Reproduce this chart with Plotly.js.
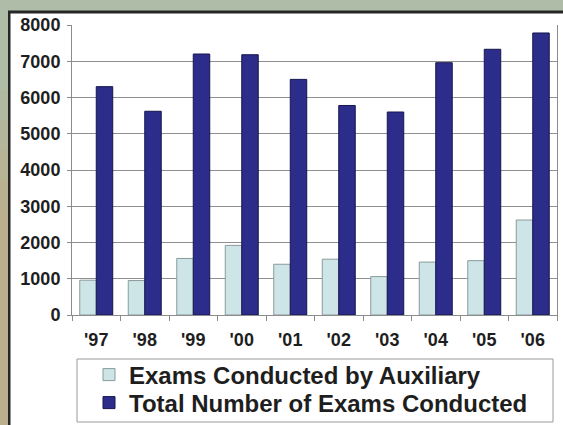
<!DOCTYPE html>
<html>
<head>
<meta charset="utf-8">
<script src="https://cdn.plot.ly/plotly-3.0.1.min.js"></script>
<style>
  html, body { margin: 0; padding: 0; background: #afbca7; }
  #chart { width: 563px; height: 425px; }
</style>
</head>
<body>
<div id="chart"></div>
<script>
// Exam counts per year
const years = ["'97", "'98", "'99", "'00", "'01", "'02", "'03", "'04", "'05", "'06"];
const auxiliaryExams = [960, 950, 1560, 1920, 1400, 1540, 1060, 1460, 1500, 2620];
const totalExams = [6300, 5620, 7200, 7180, 6500, 5780, 5600, 6960, 7330, 7780];
const yTicks = [0, 1000, 2000, 3000, 4000, 5000, 6000, 7000, 8000];
const yTickText = yTicks.map(v => '<b>' + v + '</b>');
const yearText = years.map(v => '<b>' + v + '</b>');

const W = 563, H = 425;
const M = { l: 72, r: 6, t: 25, b: 110, autoexpand: false };
const pw = W - M.l - M.r, ph = H - M.t - M.b;
// pixel -> paper fraction helpers for the frame decorations
const px = x => (x - M.l) / pw;
const py = y => (H - M.b - y) / ph;

const tickFont = { family: 'Liberation Sans, Arial, sans-serif', size: 18, color: '#1e1e1e' };
const legendFont = { family: 'Liberation Sans, Arial, sans-serif', size: 24, color: '#1e1e1e' };

const traces = [
  {
    type: 'bar', name: '<b>Exams Conducted by Auxiliary</b>',
    x: years, y: auxiliaryExams, legend: 'legend',
    marker: { color: '#cde5e7', line: { color: '#8a9a9c', width: 1 } }
  },
  {
    type: 'bar', name: '<b>Total Number of Exams Conducted</b>',
    x: years, y: totalExams, legend: 'legend2',
    marker: { color: '#2c2c8b', line: { color: '#16164e', width: 1 } }
  }
];

// left-edge strip fades from grey-green to tan
const strip = [];
const stripColors = ['#afbca7', '#b1b9a1', '#b4b69b', '#b7b395', '#b9b090', '#bab08e'];
const stripEdges = [0, 90, 120, 150, 180, 210, 425];
for (let i = 0; i < stripColors.length; i++) {
  strip.push({
    type: 'rect', xref: 'paper', yref: 'paper', layer: 'below',
    x0: px(0), x1: px(8), y0: py(stripEdges[i]), y1: py(i === stripColors.length - 1 ? 425 : stripEdges[i + 1]),
    fillcolor: stripColors[i], line: { width: 0 }
  });
}

const legendBase = {
  orientation: 'v',
  x: px(89), xanchor: 'left',
  yanchor: 'middle',
  bgcolor: 'rgba(0,0,0,0)',
  borderwidth: 0,
  font: legendFont,
  itemwidth: 30
};

const layout = {
  width: W, height: H,
  margin: M,
  paper_bgcolor: '#afbca7',
  plot_bgcolor: 'rgba(0,0,0,0)',
  barmode: 'group',
  bargap: 0.32,
  bargroupgap: 0,
  showlegend: true,
  legend: Object.assign({}, legendBase, { y: py(375) }),
  legend2: Object.assign({}, legendBase, { y: py(403) }),
  xaxis: {
    type: 'category',
    tickvals: years, ticktext: yearText,
    showline: true, linecolor: '#8c8c8c', linewidth: 1,
    ticks: 'outside', tickson: 'boundaries', ticklen: 5, tickcolor: '#8c8c8c',
    tickfont: tickFont,
    ticklabelstandoff: 8,
    showgrid: false,
    fixedrange: true
  },
  yaxis: {
    range: [0, 8000],
    tickvals: yTicks, ticktext: yTickText,
    showline: true, mirror: true, linecolor: '#8c8c8c', linewidth: 1,
    ticks: 'outside', ticklen: 4, tickcolor: '#8c8c8c',
    tickfont: tickFont,
    ticklabelstandoff: 3,
    showgrid: true, gridcolor: '#8f8f8f', gridwidth: 1,
    zeroline: false,
    fixedrange: true
  },
  shapes: [
    // white chart panel with dark frame on top and left
    {
      type: 'rect', xref: 'paper', yref: 'paper', layer: 'below',
      x0: px(9), x1: px(575), y0: py(440), y1: py(12),
      fillcolor: '#ffffff', line: { color: '#262626', width: 3 }
    },
    // legend box
    {
      type: 'rect', xref: 'paper', yref: 'paper', layer: 'above',
      x0: px(77), x1: px(553), y0: py(422), y1: py(359),
      fillcolor: 'rgba(0,0,0,0)', line: { color: '#9a9a9a', width: 1 }
    }
  ].concat(strip)
};

Plotly.newPlot('chart', traces, layout, { displayModeBar: false, staticPlot: true });
</script>
</body>
</html>
